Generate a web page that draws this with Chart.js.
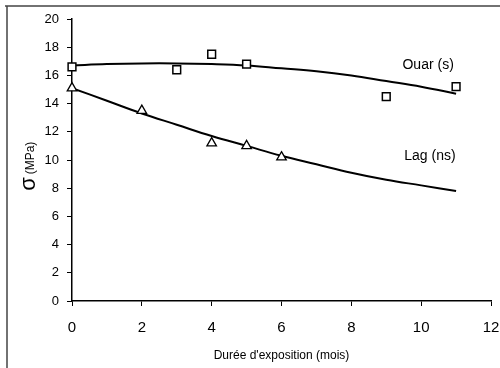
<!DOCTYPE html>
<html>
<head>
<meta charset="utf-8">
<script src="https://cdn.jsdelivr.net/npm/chart.js@4.4.1/dist/chart.umd.min.js"></script>
<style>
  html, body { margin: 0; padding: 0; background: #fff; }
  #wrap { width: 500px; height: 368px; }
</style>
</head>
<body>
<div id="wrap"><canvas id="graphe" width="500" height="368"></canvas></div>
<script>
const moisOuar = [0, 3, 4, 5, 9, 11];
const sigmaOuar = [16.6, 16.4, 17.5, 16.8, 14.5, 15.2];
const moisLag = [0, 2, 4, 5, 6];
const sigmaLag = [15.1, 13.5, 11.2, 11.0, 10.2];

// Courbes de tendance (relevées point par point sur la figure)
const moisCourbe = [0, 1, 2, 3, 4, 5, 6, 7, 8, 9, 10, 11];
const courbeOuar = [16.7, 16.8, 16.85, 16.85, 16.8, 16.7, 16.5, 16.3, 16.0, 15.6, 15.2, 14.7];
const courbeLag = [15.1, 14.2, 13.3, 12.5, 11.7, 11.0, 10.3, 9.7, 9.1, 8.6, 8.2, 7.8];

const ticksX = [0, 2, 4, 6, 8, 10, 12];
const ticksY = [0, 2, 4, 6, 8, 10, 12, 14, 16, 18, 20];

const police = "'Liberation Sans', Arial, sans-serif";

const points = (xs, ys) => xs.map((x, i) => ({ x: x, y: ys[i] }));

// Cadre, titres et noms des séries
const habillage = {
    id: 'habillage',
    afterDraw(chart) {
        const c = chart.ctx;
        const sx = chart.scales.x;
        const sy = chart.scales.y;
        const a = chart.chartArea;
        c.save();
        // cadre scanné
        c.strokeStyle = '#444';
        c.lineWidth = 1.5;
        c.beginPath();
        c.moveTo(5, 6);
        c.lineTo(500, 6);
        c.moveTo(7, 6);
        c.lineTo(7, 368);
        c.stroke();

        // titre vertical
        c.fillStyle = '#000';
        c.translate(30, 0);
        c.rotate(-Math.PI / 2);
        c.textAlign = 'center';
        c.textBaseline = 'middle';
        c.font = '22px ' + police;
        c.fillText('σ', -184, -1);
        c.font = '12px ' + police;
        c.fillText('(MPa)', -158, 1);
        c.restore();

        c.save();
        c.fillStyle = '#000';
        c.font = '14px ' + police;
        c.textAlign = 'center';
        c.textBaseline = 'middle';
        c.fillText('Ouar (s)', sx.getPixelForValue(10.2), sy.getPixelForValue(16.7));
        c.fillText('Lag (ns)', sx.getPixelForValue(10.25), sy.getPixelForValue(10.25));
        c.font = '12px ' + police;
        c.fillText("Durée d'exposition (mois)", (a.left + a.right) / 2, 356);
        c.restore();
    }
};

const ctx = document.getElementById('graphe').getContext('2d');
new Chart(ctx, {
    type: 'scatter',
    data: {
        datasets: [
            {
                label: 'Ouar (s)',
                data: points(moisOuar, sigmaOuar),
                pointStyle: 'rect',
                pointRadius: 5.5,
                pointBackgroundColor: '#fff',
                pointBorderColor: '#000',
                pointBorderWidth: 1.5,
                showLine: false,
                clip: false
            },
            {
                label: 'Lag (ns)',
                data: points(moisLag, sigmaLag),
                pointStyle: 'triangle',
                pointRadius: 5.5,
                pointBackgroundColor: '#fff',
                pointBorderColor: '#000',
                pointBorderWidth: 1.3,
                showLine: false,
                clip: false
            },
            {
                label: 'tendance Ouar',
                data: points(moisCourbe, courbeOuar),
                showLine: true,
                borderColor: '#000',
                borderWidth: 2,
                pointRadius: 0,
                tension: 0.4
            },
            {
                label: 'tendance Lag',
                data: points(moisCourbe, courbeLag),
                showLine: true,
                borderColor: '#000',
                borderWidth: 2,
                pointRadius: 0,
                tension: 0.4
            }
        ]
    },
    options: {
        responsive: false,
        animation: false,
        layout: { padding: { top: 19, right: 0, left: 0, bottom: 0 } },
        plugins: {
            legend: { display: false },
            tooltip: { enabled: false }
        },
        scales: {
            x: {
                type: 'linear',
                min: 0,
                max: 12,
                afterFit: (s) => { s.height = 67; s.paddingRight = 9; },
                afterBuildTicks: (s) => { s.ticks = ticksX.map(v => ({ value: v })); },
                grid: { drawOnChartArea: false, drawTicks: true, tickLength: 5, color: '#000', lineWidth: 1 },
                border: { display: true, color: '#000', width: 1.5 },
                ticks: { color: '#000', padding: 13, font: { family: police, size: 15 } }
            },
            y: {
                type: 'linear',
                min: 0,
                max: 20,
                afterFit: (s) => { s.width = 72; },
                afterBuildTicks: (s) => { s.ticks = ticksY.map(v => ({ value: v })); },
                grid: { drawOnChartArea: false, drawTicks: true, tickLength: 5, color: '#000', lineWidth: 1 },
                border: { display: true, color: '#000', width: 1.5 },
                ticks: { color: '#000', padding: 8, font: { family: police, size: 13 } }
            }
        }
    },
    plugins: [habillage]
});
</script>
</body>
</html>
